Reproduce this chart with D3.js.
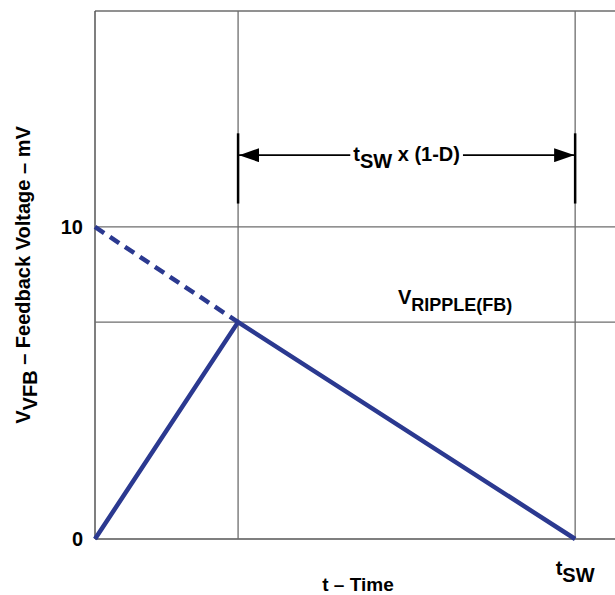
<!DOCTYPE html>
<html>
<head>
<meta charset="utf-8">
<script src="https://cdn.jsdelivr.net/npm/d3@7"></script>
<style>
  body { margin: 0; background: #fff; }
  text { font-family: "Liberation Sans", Arial, sans-serif; font-weight: bold; fill: #000; }
</style>
</head>
<body>
<div id="chart"></div>
<script>
// waveform, t in units of tSW, v in mV
var duty = 0.298;
var rampTime = [0, duty, 1];
var rampVolt = [0, 6.95, 0];
var dashTime = [0, duty];
var dashVolt = [10, 6.95];
var yTicks = [0, 10];
var gridT = [duty, 1];
var gridV = [10, 6.95];

var width = 615, height = 595;
var margin = { left: 95, right: 0, top: 11, bottom: 56 };

var blue = "#2b3990";
var gridColor = "#6d6d6d";

var svg = d3.select("#chart").append("svg")
  .attr("width", width)
  .attr("height", height);

var x = d3.scaleLinear().domain([0, 1.083]).range([margin.left, width - margin.right]);
var y = d3.scaleLinear().domain([0, 16.92]).range([height - margin.bottom, margin.top]);

svg.append("defs").append("marker")
  .attr("id", "arr")
  .attr("viewBox", "0 0 20 14")
  .attr("refX", 20).attr("refY", 7)
  .attr("markerWidth", 20).attr("markerHeight", 14)
  .attr("markerUnits", "userSpaceOnUse")
  .attr("orient", "auto-start-reverse")
  .append("path").attr("d", "M0,0L20,7L0,14Z").attr("fill", "#000");

// frame
var g = svg.append("g");
g.append("line").attr("x1", x(0)).attr("x2", x(1.083)).attr("y1", y(16.92)).attr("y2", y(16.92))
  .attr("stroke", gridColor).attr("stroke-width", 1.5);
g.append("line").attr("x1", x(0)).attr("x2", x(0)).attr("y1", y(16.92)).attr("y2", y(0))
  .attr("stroke", "#555").attr("stroke-width", 1.5);
g.append("line").attr("x1", x(0)).attr("x2", x(1.083)).attr("y1", y(0)).attr("y2", y(0))
  .attr("stroke", "#555").attr("stroke-width", 1.5);

g.selectAll(".gx").data(gridT).enter().append("line")
  .attr("x1", d => x(d)).attr("x2", d => x(d))
  .attr("y1", y(16.92)).attr("y2", y(0))
  .attr("stroke", gridColor).attr("stroke-width", 1.3);
g.selectAll(".gy").data(gridV).enter().append("line")
  .attr("x1", x(0)).attr("x2", x(1.083))
  .attr("y1", d => y(d)).attr("y2", d => y(d))
  .attr("stroke", gridColor).attr("stroke-width", 1.3);

// y axis ticks
var yAxis = svg.append("g")
  .attr("transform", "translate(" + x(0) + ",0)")
  .call(d3.axisLeft(y).tickValues(yTicks).tickSize(0).tickPadding(12));
yAxis.select(".domain").remove();
yAxis.selectAll("text")
  .style("font-family", "Liberation Sans, Arial, sans-serif")
  .style("font-weight", "bold").style("font-size", "20px").attr("fill", "#000");

// x tick label tSW
var xl = svg.append("text").attr("x", x(1)).attr("y", y(0) + 36)
  .attr("text-anchor", "middle").style("font-size", "20px");
xl.append("tspan").text("t");
xl.append("tspan").attr("dy", 7).text("SW");

// waveform
var line = d3.line().x(d => x(d[0])).y(d => y(d[1]));
svg.append("path")
  .attr("d", line(d3.zip(dashTime, dashVolt)))
  .attr("fill", "none").attr("stroke", blue).attr("stroke-width", 4.5)
  .attr("stroke-dasharray", "11,7");
svg.append("path")
  .attr("d", line(d3.zip(rampTime, rampVolt)))
  .attr("fill", "none").attr("stroke", blue).attr("stroke-width", 4.5)
  .attr("stroke-linejoin", "miter");

// dimension marker
var ay = y(12.3);
svg.selectAll(".dm").data(gridT).enter().append("line")
  .attr("x1", d => x(d)).attr("x2", d => x(d))
  .attr("y1", y(13.0)).attr("y2", y(10.75))
  .attr("stroke", "#000").attr("stroke-width", 2.5);
svg.append("line")
  .attr("x1", x(duty) + 1).attr("x2", x(1) - 1)
  .attr("y1", ay).attr("y2", ay)
  .attr("stroke", "#000").attr("stroke-width", 1.8)
  .attr("marker-start", "url(#arr)").attr("marker-end", "url(#arr)");
var lblBg = svg.append("rect").attr("fill", "#fff");
var lbl = svg.append("text").attr("x", (x(duty) + x(1)) / 2).attr("y", ay + 6)
  .attr("text-anchor", "middle").style("font-size", "20px");
lbl.append("tspan").text("t");
lbl.append("tspan").attr("dy", 7).text("SW");
lbl.append("tspan").attr("dy", -7).text(" x (1-D)");
var bb = lbl.node().getBBox();
lblBg.attr("x", bb.x - 3).attr("y", bb.y).attr("width", bb.width + 6).attr("height", bb.height);

// ripple label
var rl = svg.append("text").attr("x", 398).attr("y", y(6.95) - 18)
  .style("font-size", "20px");
rl.append("tspan").text("V");
rl.append("tspan").attr("dy", 7).style("font-size", "18px").text("RIPPLE(FB)");

// axis titles
svg.append("text").attr("x", (x(0) + x(1.083)) / 2 + 3).attr("y", 591)
  .attr("text-anchor", "middle").style("font-size", "19px").text("t \u2013 Time");

var yt = svg.append("text")
  .attr("transform", "translate(30," + 275 + ") rotate(-90)")
  .attr("text-anchor", "middle").style("font-size", "20px");
yt.append("tspan").text("V");
yt.append("tspan").attr("dy", 7).text("VFB");
yt.append("tspan").attr("dy", -7).text(" \u2013 Feedback Voltage \u2013 mV");
</script>
</body>
</html>
